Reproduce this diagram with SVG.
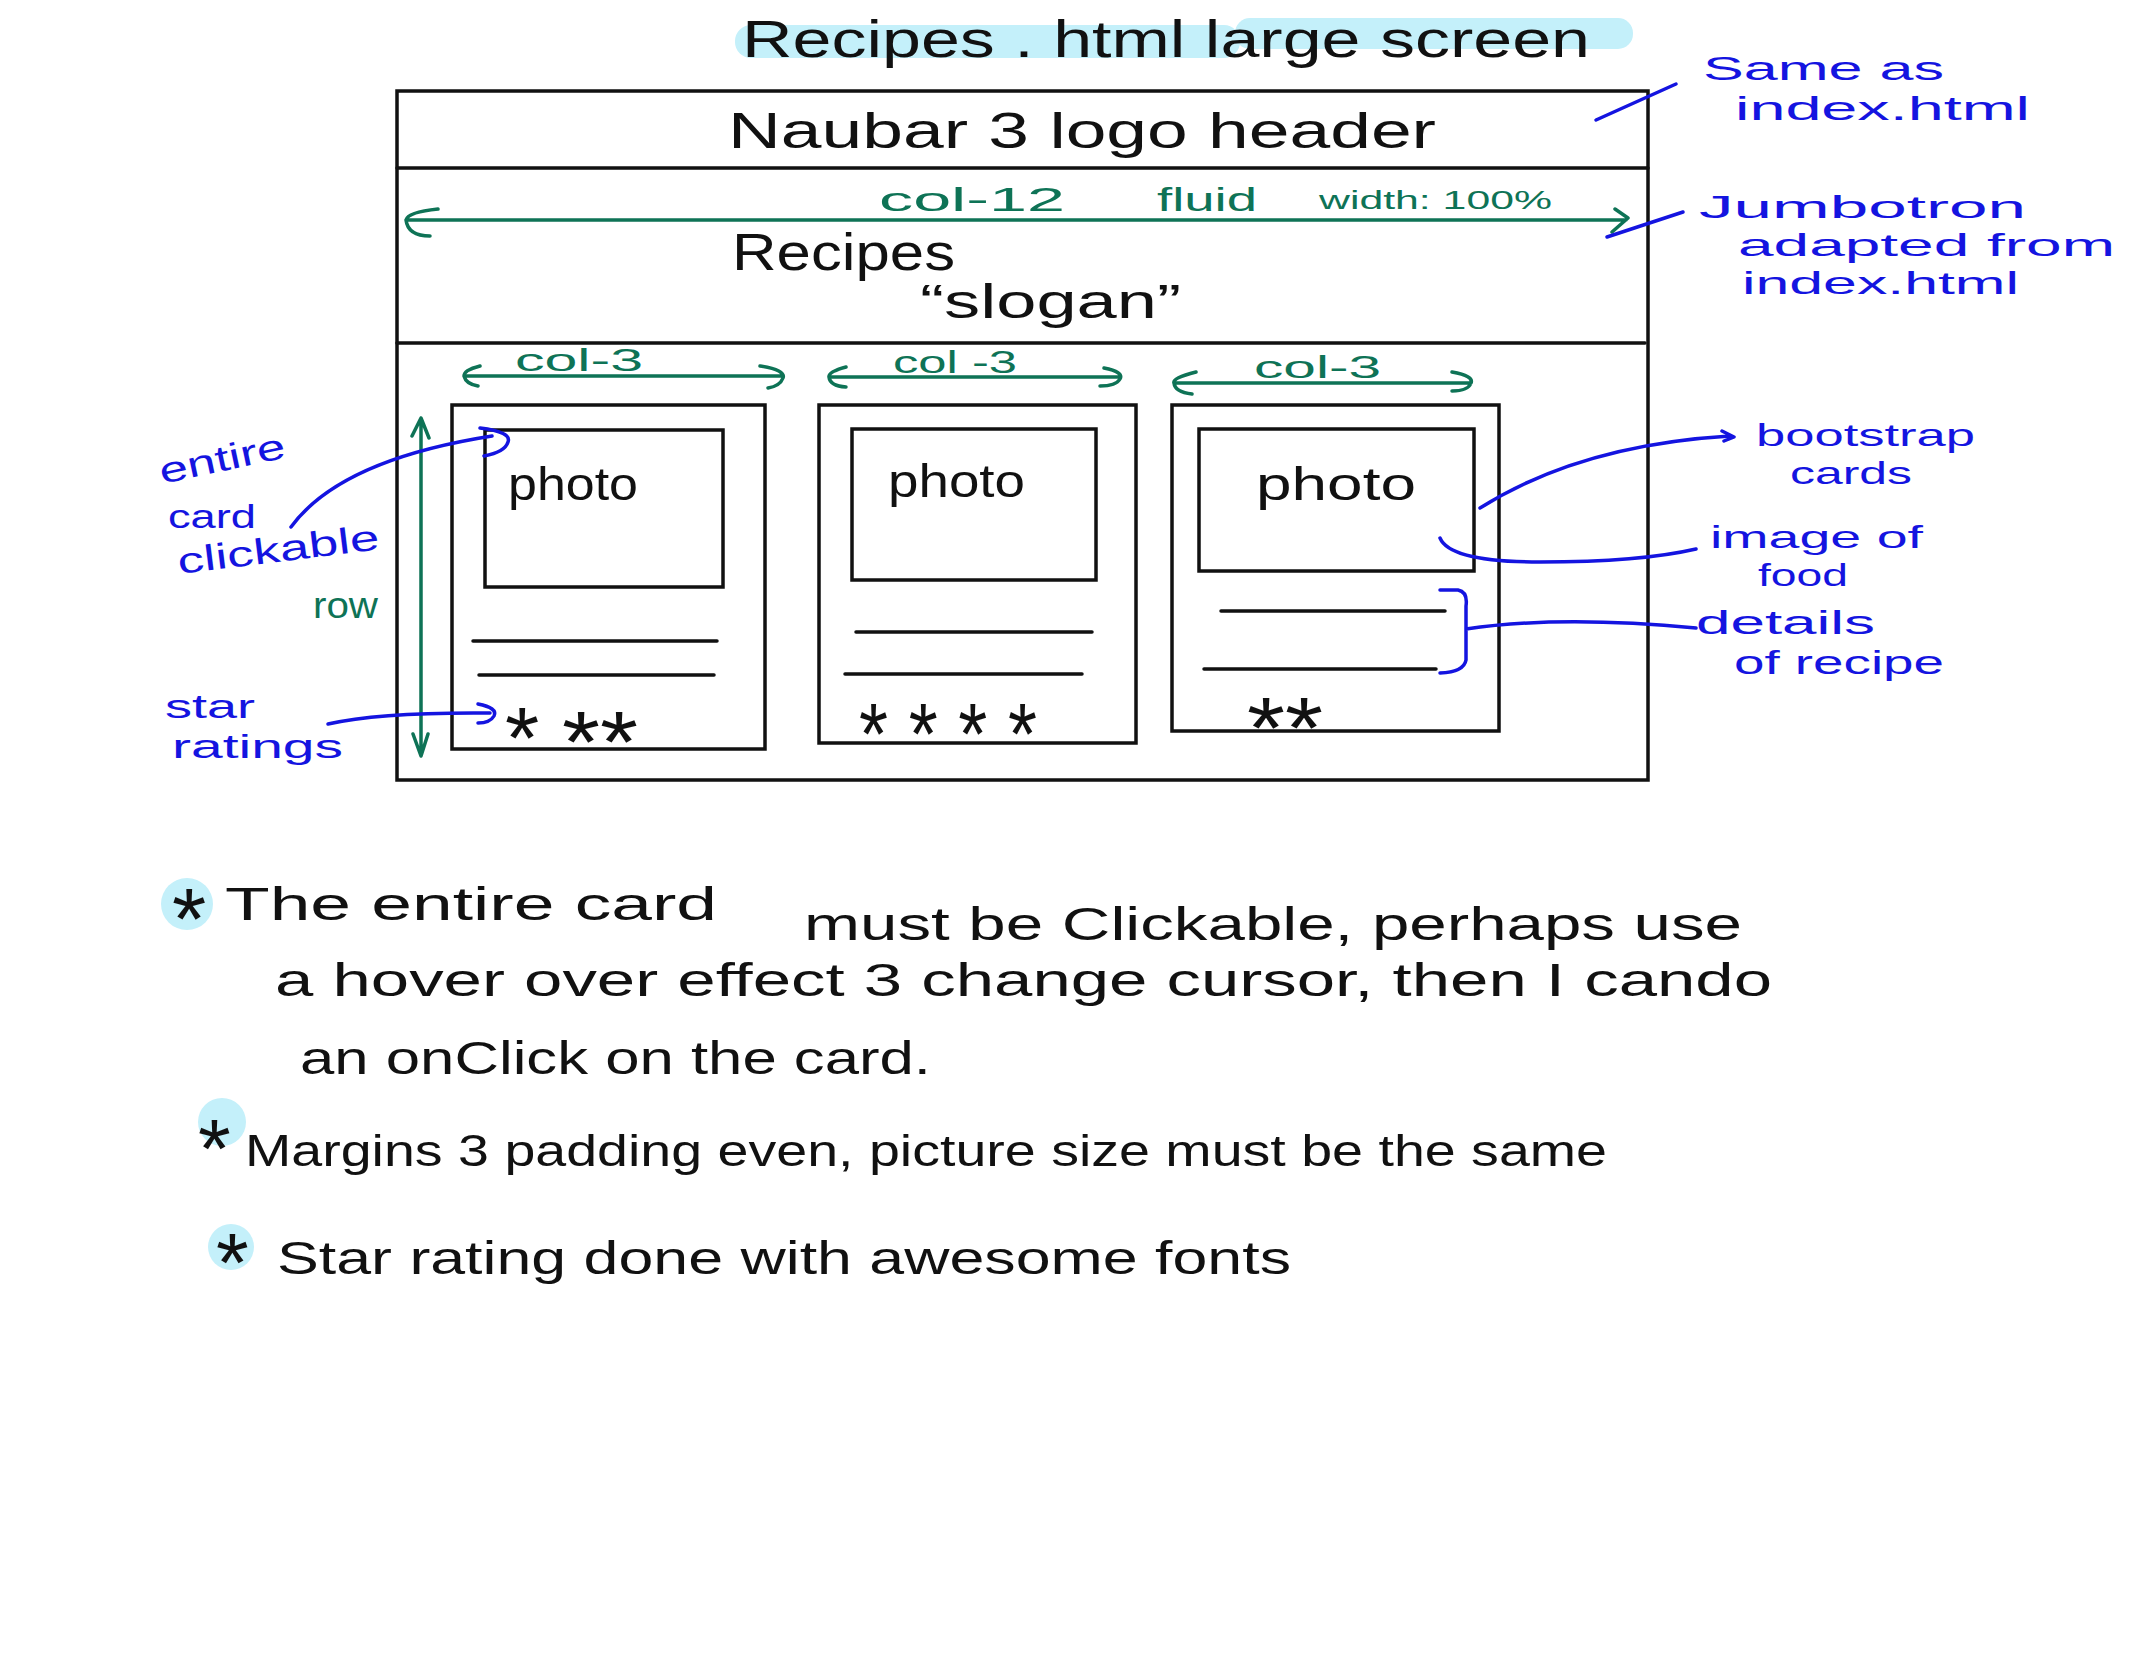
<svg xmlns="http://www.w3.org/2000/svg" width="2154" height="1668" viewBox="0 0 2154 1668">
<style>
text{font-family:"Liberation Sans","DejaVu Sans",sans-serif}
.k{fill:#111}
.g{fill:#0e7356}
.b{fill:#1414e0}
.box{fill:none;stroke:#111;stroke-width:3.5}
.ln{stroke:#111;stroke-width:3.5;stroke-linecap:round}
.ga{fill:none;stroke:#0e7356;stroke-width:3.5;stroke-linecap:round;stroke-linejoin:round}
.ba{fill:none;stroke:#1414e0;stroke-width:3.5;stroke-linecap:round;stroke-linejoin:round}
.hl{fill:#c4f0fa}
</style>
<rect width="2154" height="1668" fill="#fff"/>

<g id="title">
<rect class="hl" x="735" y="25" width="505" height="33" rx="16"/>
<rect class="hl" x="1235" y="18" width="398" height="31" rx="15"/>
<text class="k" x="742" y="57" font-size="52" textLength="848" lengthAdjust="spacingAndGlyphs">Recipes . html large screen</text>
</g>

<g id="frame">
<rect class="box" x="397" y="91" width="1251" height="689"/>
<line class="ln" x1="397" y1="168" x2="1648" y2="168"/>
<line class="ln" x1="397" y1="343" x2="1645" y2="343"/>
</g>

<g id="navbar">
<text class="k" x="728" y="148" font-size="50" textLength="708" lengthAdjust="spacingAndGlyphs">Naubar 3 logo header</text>
</g>

<g id="jumbotron">
<text class="g" x="879" y="211" font-size="34" textLength="186" lengthAdjust="spacingAndGlyphs">col-12</text>
<text class="g" x="1157" y="211" font-size="34" textLength="100" lengthAdjust="spacingAndGlyphs">fluid</text>
<text class="g" x="1319" y="209" font-size="26" textLength="233" lengthAdjust="spacingAndGlyphs">width: 100%</text>
<text class="k" x="732" y="270" font-size="52" textLength="223" lengthAdjust="spacingAndGlyphs">Recipes</text>
<text class="k" x="920" y="318" font-size="48" textLength="261" lengthAdjust="spacingAndGlyphs">“slogan”</text>
</g>

<g id="card1">
<rect class="box" x="452" y="405" width="313" height="344"/>
<rect class="box" x="485" y="430" width="238" height="157"/>
<text class="k" x="508" y="500" font-size="46" textLength="130" lengthAdjust="spacingAndGlyphs">photo</text>
<line class="ln" x1="473" y1="641" x2="717" y2="641"/>
<line class="ln" x1="479" y1="675" x2="714" y2="675"/>
<text class="k" x="505" y="768" font-size="88">*</text>
<text class="k" x="562" y="772" font-size="88" textLength="76" lengthAdjust="spacingAndGlyphs">**</text>
</g>

<g id="card2">
<rect class="box" x="819" y="405" width="317" height="338"/>
<rect class="box" x="852" y="429" width="244" height="151"/>
<text class="k" x="888" y="497" font-size="46" textLength="137" lengthAdjust="spacingAndGlyphs">photo</text>
<line class="ln" x1="856" y1="632" x2="1092" y2="632"/>
<line class="ln" x1="845" y1="674" x2="1082" y2="674"/>
<text class="k" x="859" y="764" font-size="88" textLength="178" lengthAdjust="spacingAndGlyphs">* * * *</text>
</g>

<g id="card3">
<rect class="box" x="1172" y="405" width="327" height="326"/>
<rect class="box" x="1199" y="429" width="275" height="142"/>
<text class="k" x="1256" y="500" font-size="46" textLength="160" lengthAdjust="spacingAndGlyphs">photo</text>
<line class="ln" x1="1221" y1="611" x2="1445" y2="611"/>
<line class="ln" x1="1204" y1="669" x2="1436" y2="669"/>
<text class="k" x="1247" y="758" font-size="88" textLength="76" lengthAdjust="spacingAndGlyphs">**</text>
</g>

<g id="grid-labels">
<text class="g" x="515" y="371" font-size="32" textLength="128" lengthAdjust="spacingAndGlyphs">col-3</text>
<text class="g" x="893" y="373" font-size="32" textLength="124" lengthAdjust="spacingAndGlyphs">col -3</text>
<text class="g" x="1254" y="378" font-size="32" textLength="127" lengthAdjust="spacingAndGlyphs">col-3</text>
<text class="g" x="313" y="618" font-size="36" textLength="65" lengthAdjust="spacingAndGlyphs">row</text>
</g>

<g id="annotations-left">
<text class="b" x="162" y="484" font-size="36" textLength="128" lengthAdjust="spacingAndGlyphs" transform="rotate(-12 162 484)">entire</text>
<text class="b" x="168" y="528" font-size="34" textLength="88" lengthAdjust="spacingAndGlyphs">card</text>
<text class="b" x="179" y="574" font-size="36" textLength="203" lengthAdjust="spacingAndGlyphs" transform="rotate(-7 179 574)">clickable</text>
<text class="b" x="165" y="718" font-size="34" textLength="90" lengthAdjust="spacingAndGlyphs">star</text>
<text class="b" x="172" y="758" font-size="34" textLength="171" lengthAdjust="spacingAndGlyphs">ratings</text>
</g>

<g id="annotations-right">
<text class="b" x="1703" y="80" font-size="34" textLength="241" lengthAdjust="spacingAndGlyphs">Same as</text>
<text class="b" x="1735" y="120" font-size="34" textLength="295" lengthAdjust="spacingAndGlyphs">index.html</text>
<text class="b" x="1699" y="218" font-size="32" textLength="327" lengthAdjust="spacingAndGlyphs">Jumbotron</text>
<text class="b" x="1738" y="256" font-size="32" textLength="377" lengthAdjust="spacingAndGlyphs">adapted from</text>
<text class="b" x="1742" y="294" font-size="32" textLength="277" lengthAdjust="spacingAndGlyphs">index.html</text>
<text class="b" x="1756" y="446" font-size="32" textLength="219" lengthAdjust="spacingAndGlyphs">bootstrap</text>
<text class="b" x="1790" y="484" font-size="32" textLength="122" lengthAdjust="spacingAndGlyphs">cards</text>
<text class="b" x="1710" y="548" font-size="32" textLength="213" lengthAdjust="spacingAndGlyphs">image of</text>
<text class="b" x="1758" y="586" font-size="32" textLength="90" lengthAdjust="spacingAndGlyphs">food</text>
<text class="b" x="1696" y="634" font-size="34" textLength="179" lengthAdjust="spacingAndGlyphs">details</text>
<text class="b" x="1734" y="674" font-size="34" textLength="210" lengthAdjust="spacingAndGlyphs">of recipe</text>
</g>

<g id="connectors">
<path class="ga" d="M406 220 L1626 220 M1615 209 L1628 218 L1612 232 M438 209 Q408 212 406 220 Q408 236 430 236"/>
<path class="ga" d="M464 376 L783 376 M760 366 Q786 370 783 378 Q780 386 768 388 M480 366 Q464 370 464 376 Q466 384 478 386"/>
<path class="ga" d="M829 377 L1120 377 M1104 368 Q1124 372 1120 379 Q1116 386 1100 386 M846 367 Q828 372 829 377 Q830 386 846 387"/>
<path class="ga" d="M1174 383 L1471 383 M1452 372 Q1474 376 1471 383 Q1468 391 1452 391 M1196 372 Q1172 378 1174 383 Q1175 392 1192 394"/>
<path class="ga" d="M421 418 L421 755 M412 436 L421 418 L429 438 M413 734 L421 756 L428 734"/>
<path class="ba" d="M1596 120 L1676 84"/>
<path class="ba" d="M1607 237 L1683 212"/>
<path class="ba" d="M291 527 Q340 460 492 436 M480 428 Q512 432 508 442 Q505 452 484 456"/>
<path class="ba" d="M328 724 Q380 712 490 713 M478 704 Q498 708 494 716 Q490 723 478 723"/>
<path class="ba" d="M1480 508 Q1580 445 1730 436 M1722 431 L1734 437 L1724 441"/>
<path class="ba" d="M1440 538 Q1450 562 1540 562 Q1640 562 1696 549"/>
<path class="ba" d="M1440 590 L1458 590 Q1468 592 1466 606 L1466 660 Q1464 672 1440 673 M1466 629 Q1560 615 1696 628"/>
</g>

<g id="notes">
<circle class="hl" cx="187" cy="904" r="26"/>
<text class="k" x="172" y="949" font-size="88">*</text>
<text class="k" x="225" y="920" font-size="46" textLength="492" lengthAdjust="spacingAndGlyphs">The entire card</text>
<text class="k" x="804" y="940" font-size="46" textLength="938" lengthAdjust="spacingAndGlyphs">must be Clickable, perhaps use</text>
<text class="k" x="275" y="996" font-size="46" textLength="1497" lengthAdjust="spacingAndGlyphs">a hover over effect 3 change cursor, then I cando</text>
<text class="k" x="300" y="1074" font-size="46" textLength="631" lengthAdjust="spacingAndGlyphs">an onClick on the card.</text>
<circle class="hl" cx="222" cy="1122" r="24"/>
<text class="k" x="198" y="1178" font-size="84">*</text>
<text class="k" x="245" y="1166" font-size="44" textLength="1362" lengthAdjust="spacingAndGlyphs">Margins 3 padding even, picture size must be the same</text>
<circle class="hl" cx="231" cy="1247" r="23"/>
<text class="k" x="216" y="1292" font-size="84">*</text>
<text class="k" x="277" y="1274" font-size="46" textLength="1014" lengthAdjust="spacingAndGlyphs">Star rating done with awesome fonts</text>
</g>
</svg>
